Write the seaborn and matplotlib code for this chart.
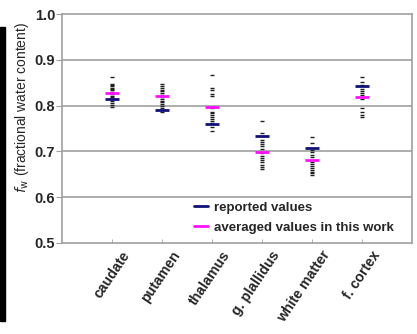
import numpy as np
import pandas as pd
import matplotlib
matplotlib.use("Agg")
import matplotlib.pyplot as plt
from matplotlib.lines import Line2D
from matplotlib.patches import Rectangle
import seaborn as sns

regions = ["caudate", "putamen", "thalamus", "g. plallidus", "white matter", "f. cortex"]

caudate = [0.862, 0.848, 0.845, 0.842, 0.839, 0.836, 0.833, 0.830, 0.826, 0.822, 0.818, 0.814, 0.810, 0.806, 0.801, 0.796]
putamen = [0.847, 0.843, 0.839, 0.835, 0.831, 0.827, 0.823, 0.819, 0.815, 0.811, 0.807, 0.803, 0.799, 0.795, 0.790, 0.786]
thalamus = [0.867, 0.839, 0.835, 0.826, 0.820, 0.798, 0.794, 0.787, 0.783, 0.779, 0.775, 0.771, 0.767, 0.763, 0.754, 0.744]
g_pallidus = [0.766, 0.740, 0.725, 0.721, 0.716, 0.711, 0.705, 0.696, 0.691, 0.686, 0.681, 0.676, 0.671, 0.666, 0.661]
white_matter = [0.731, 0.718, 0.703, 0.698, 0.693, 0.688, 0.676, 0.672, 0.668, 0.664, 0.660, 0.656, 0.652, 0.648]
f_cortex = [0.862, 0.851, 0.845, 0.836, 0.832, 0.828, 0.824, 0.814, 0.794, 0.787, 0.780, 0.775]

reported = [0.815, 0.790, 0.759, 0.734, 0.707, 0.842]
averaged = [0.828, 0.820, 0.798, 0.699, 0.681, 0.818]

groups = [caudate, putamen, thalamus, g_pallidus, white_matter, f_cortex]
df = pd.DataFrame({
    "region": [r for r, g in zip(regions, groups) for _ in g],
    "fw": [v for g in groups for v in g],
})
ref = pd.DataFrame({"region": regions, "reported": reported, "averaged": averaged})

BLUE = "#10107a"
MAGENTA = "#ff10ff"
GRID = "#a0a0a0"

sns.set_style("white")
plt.rcParams["font.family"] = ["Liberation Sans", "DejaVu Sans"]

fig = plt.figure(figsize=(4.17, 3.34), dpi=100)
ax = fig.add_axes([0.1487, 0.2725, 0.8393, 0.6855])

# individual values
sns.stripplot(data=df, x="region", y="fw", order=regions, jitter=False,
              marker="_", color="#202020", size=3.2, linewidth=1.0, ax=ax, zorder=3)
# reported / averaged
sns.stripplot(data=ref, x="region", y="reported", order=regions, jitter=False,
              marker="_", color=BLUE, size=10, linewidth=2, ax=ax, zorder=4)
sns.stripplot(data=ref, x="region", y="averaged", order=regions, jitter=False,
              marker="_", color=MAGENTA, size=10, linewidth=2, ax=ax, zorder=4)

ax.set_xlim(-1, 6)
ax.set_ylim(0.5, 1.0)
ax.set_yticks([0.5, 0.6, 0.7, 0.8, 0.9, 1.0])
ax.set_yticklabels(["0.5", "0.6", "0.7", "0.8", "0.9", "1.0"], fontsize=10.5, fontweight="bold")
for y in [0.6, 0.7, 0.8, 0.9]:
    ax.axhline(y, color=GRID, lw=1.2, zorder=1)

# tick marks at the categories (minor), labels slightly shifted (major)
pos = np.arange(len(regions))
ax.set_xticks(pos, minor=True)
ax.set_xticks(pos + 0.18)
ax.set_xticklabels(regions, rotation=56, ha="right", va="top",
                   rotation_mode="anchor", fontsize=10.2, fontweight="bold")
ax.tick_params(axis="x", which="major", length=0, pad=4)
ax.tick_params(axis="x", which="minor", direction="in", length=3, color=GRID,
               bottom=True)
ax.tick_params(axis="y", direction="out", length=4, color=GRID, pad=1, left=True)

for s in ax.spines.values():
    s.set_color(GRID)
    s.set_linewidth(1.2)

ax.set_xlabel("")
ax.set_ylabel(r"$f_\mathrm{w}$ (fractional water content)", fontsize=10)
ax.yaxis.set_label_coords(-0.09, 0.59)

handles = [Line2D([], [], color=BLUE, lw=2), Line2D([], [], color=MAGENTA, lw=2)]
ax.legend(handles, ["reported values", "averaged values in this work"],
          loc="center left", bbox_to_anchor=(0.377, 0.11), frameon=False,
          handlelength=1.1, handletextpad=0.45, labelspacing=0.6,
          borderpad=0, borderaxespad=0,
          prop={"weight": "bold", "size": 9.5})

# black strip at left edge
fig.patches.append(Rectangle((0, 0.04), 0.012, 0.88, transform=fig.transFigure,
                             color="black", zorder=0))

fig.savefig("out.png", dpi=100)
